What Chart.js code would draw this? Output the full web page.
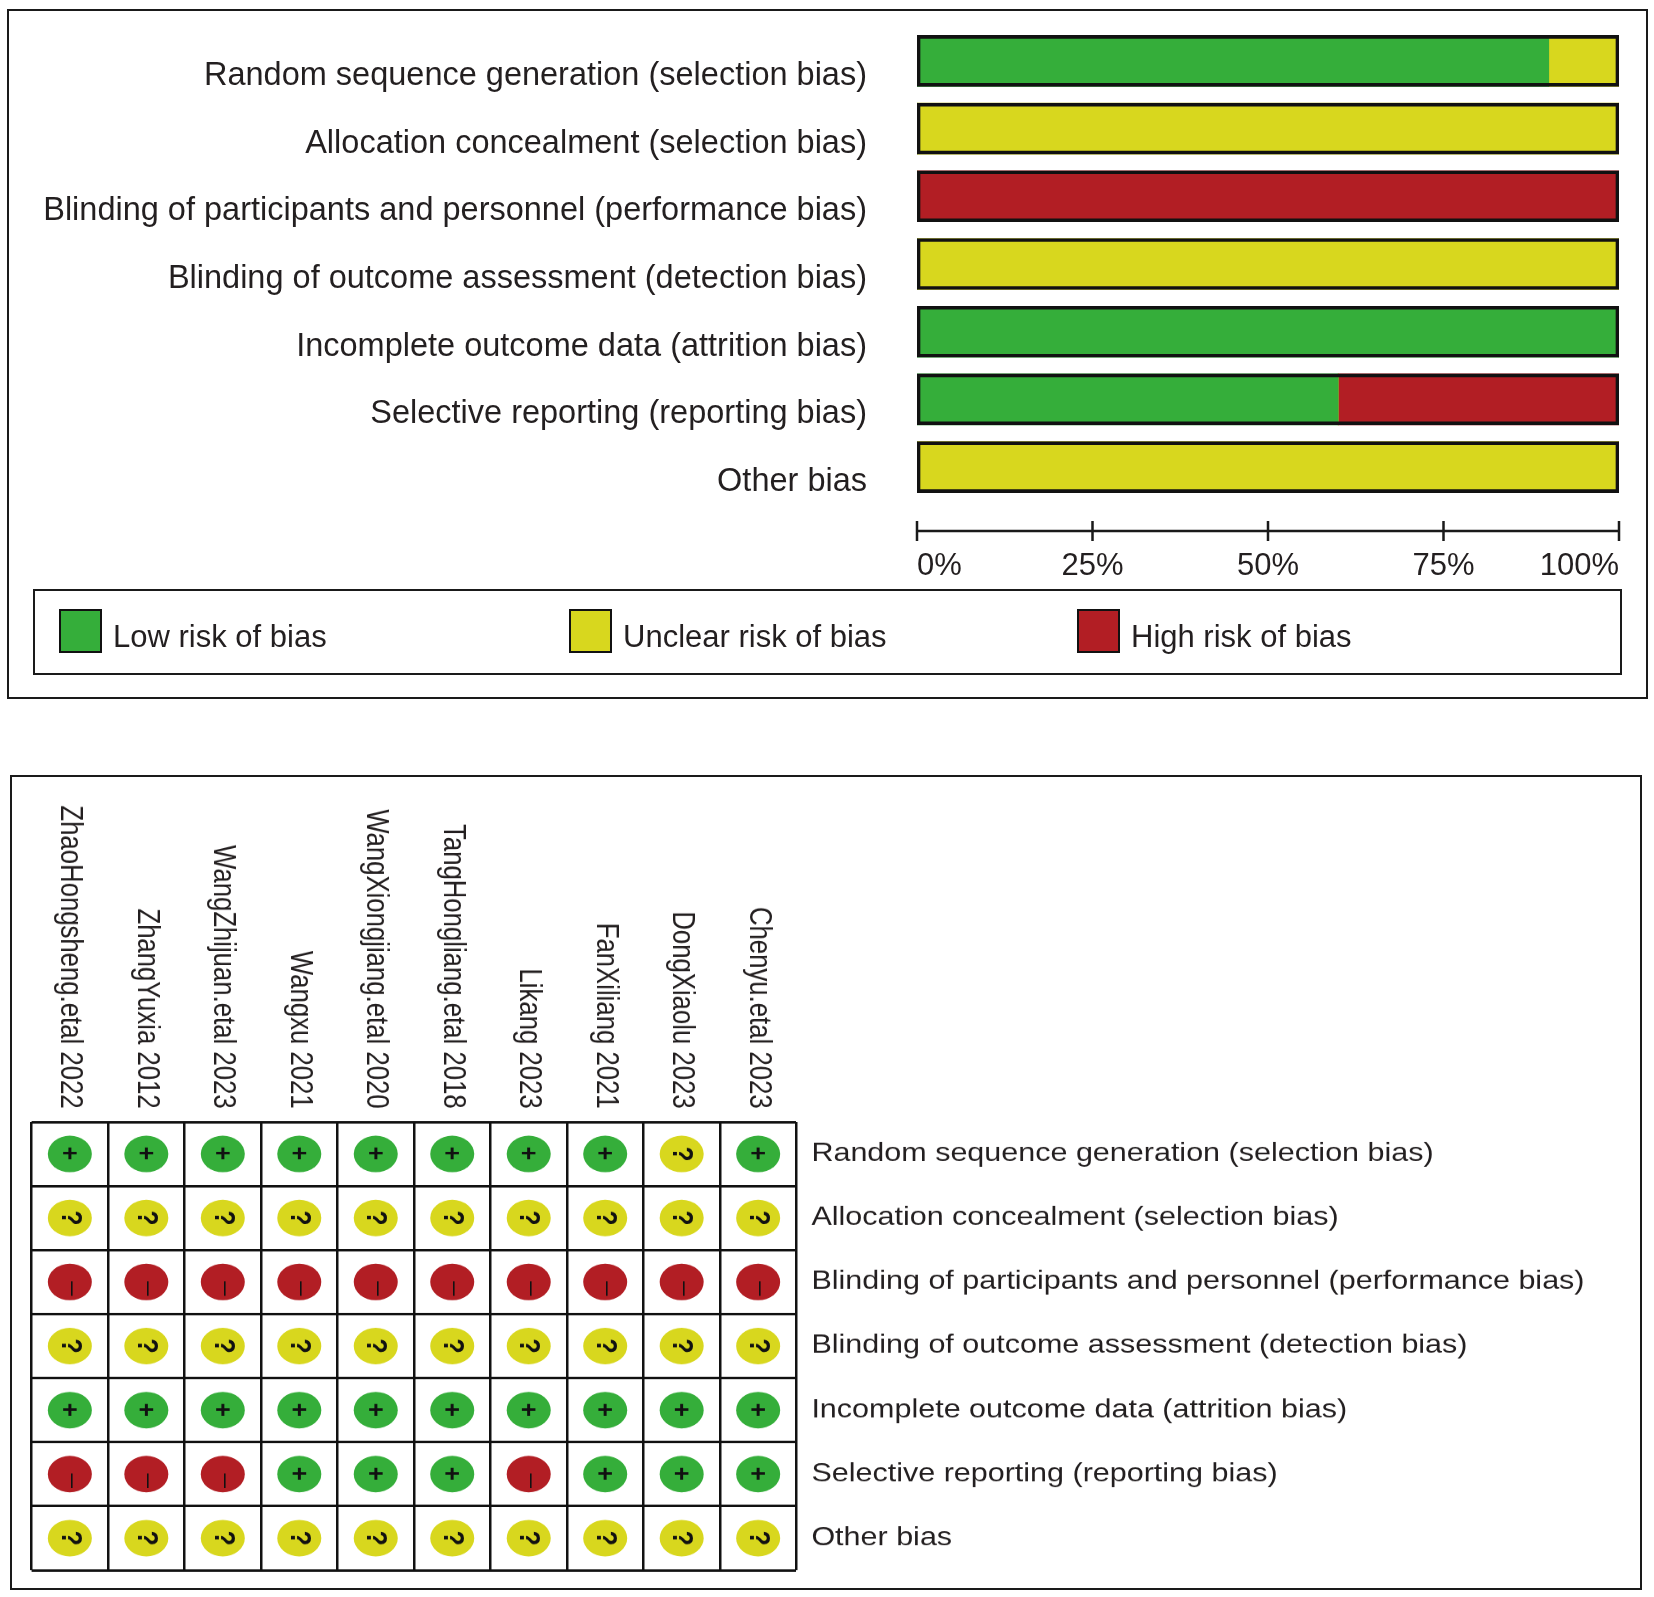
<!DOCTYPE html>
<html lang="en">
<head>
<meta charset="utf-8">
<title>Risk of bias graph and summary</title>
<script src="https://cdn.jsdelivr.net/npm/chart.js@4.4.1/dist/chart.umd.min.js"></script>
<style>
  html, body { margin: 0; padding: 0; background: #ffffff; }
  body {
    position: relative;
    width: 1654px;
    height: 1597px;
    overflow: hidden;
    font-family: 'Liberation Sans', Arial, sans-serif;
    color: #231f20;
  }
  .frame { position: absolute; box-sizing: border-box; border: 2.5px solid #1a1a1a; }
  #graphFrame { left: 7px; top: 9px; width: 1641px; height: 690px; }
  #summaryFrame { left: 10px; top: 775px; width: 1632px; height: 815px; }
  #graphCanvas { position: absolute; left: 0; top: 0; }
  /* the summary figure is vertically squashed in the original */
  #summaryCanvas { position: absolute; left: 0; top: 775px; transform: scaleY(0.83); transform-origin: 0 0; }
  #legend {
    position: absolute; left: 33px; top: 589px; width: 1589px; height: 86px;
    box-sizing: border-box; border: 2.5px solid #1a1a1a;
  }
  .legend-item { position: absolute; top: 18px; display: flex; align-items: center; font-size: 31px; }
  .legend-swatch { width: 43px; height: 44px; box-sizing: border-box; border: 2.5px solid #111; }
  .legend-text { margin-left: 11px; position: relative; top: 6px; }
</style>
</head>
<body>
<div class="frame" id="graphFrame"></div>
<div class="frame" id="summaryFrame"></div>
<canvas id="graphCanvas" width="1654" height="590"></canvas>
<div id="legend"></div>
<canvas id="summaryCanvas" width="1654" height="981"></canvas>
<script>
const domains = [
  'Random sequence generation (selection bias)',
  'Allocation concealment (selection bias)',
  'Blinding of participants and personnel (performance bias)',
  'Blinding of outcome assessment (detection bias)',
  'Incomplete outcome data (attrition bias)',
  'Selective reporting (reporting bias)',
  'Other bias'
];

const studies = [
  'ZhaoHongsheng.etal 2022',
  'ZhangYuxia 2012',
  'WangZhijuan.etal 2023',
  'Wangxu 2021',
  'WangXiongjiang.etal 2020',
  'TangHongliang.etal 2018',
  'Likang 2023',
  'FanXiliang 2021',
  'DongXiaolu 2023',
  'Chenyu.etal 2023'
];

// risk of bias graph (% of studies)
const lowPercent = [90, 0, 0, 0, 100, 60, 0];
const unclearPercent = [10, 100, 0, 100, 0, 0, 100];
const highPercent = [0, 0, 100, 0, 0, 40, 0];
const percentTicks = [0, 25, 50, 75, 100];

// risk of bias summary, one row per domain, one entry per study
const randomSequence = ['+', '+', '+', '+', '+', '+', '+', '+', '?', '+'];
const allocationConcealment = ['?', '?', '?', '?', '?', '?', '?', '?', '?', '?'];
const blindingParticipants = ['-', '-', '-', '-', '-', '-', '-', '-', '-', '-'];
const blindingOutcome = ['?', '?', '?', '?', '?', '?', '?', '?', '?', '?'];
const incompleteData = ['+', '+', '+', '+', '+', '+', '+', '+', '+', '+'];
const selectiveReporting = ['-', '-', '-', '+', '+', '+', '-', '+', '+', '+'];
const otherBias = ['?', '?', '?', '?', '?', '?', '?', '?', '?', '?'];

const riskLabels = ['Low risk of bias', 'Unclear risk of bias', 'High risk of bias'];
const riskSymbols = ['+', '?', '-'];
const riskColors = ['#35ae3a', '#d8d71e', '#b21e24'];

const judgements = [
  randomSequence,
  allocationConcealment,
  blindingParticipants,
  blindingOutcome,
  incompleteData,
  selectiveReporting,
  otherBias
];

const textColor = '#231f20';
const fontFamily = "'Liberation Sans', Arial, sans-serif";
Chart.defaults.font.family = fontFamily;
Chart.defaults.color = textColor;

// axis line with ticks crossing it, set a little below the bars
const axisLine = {
  id: 'axisLine',
  afterDraw(chart) {
    const scale = chart.scales.x;
    const y = chart.chartArea.bottom + 30;
    const ctx = chart.ctx;
    ctx.save();
    ctx.strokeStyle = '#1a1a1a';
    ctx.lineWidth = 2.5;
    ctx.beginPath();
    ctx.moveTo(scale.getPixelForValue(scale.min), y);
    ctx.lineTo(scale.getPixelForValue(scale.max), y);
    scale.ticks.forEach((tick) => {
      const x = scale.getPixelForValue(tick.value);
      ctx.moveTo(x, y - 10);
      ctx.lineTo(x, y + 10);
    });
    ctx.stroke();
    ctx.restore();
  }
};

const barBase = { stack: 'risk', barThickness: 51, borderWidth: 0 };

new Chart(document.getElementById('graphCanvas'), {
  type: 'bar',
  data: {
    labels: domains,
    datasets: [
      {
        label: 'outline',
        data: domains.map((_, i) => lowPercent[i] + unclearPercent[i] + highPercent[i]),
        stack: 'outline',
        grouped: false,
        order: -1,
        barThickness: 51,
        backgroundColor: 'rgba(0, 0, 0, 0)',
        borderColor: '#111111',
        borderWidth: 3,
        borderSkipped: false
      },
      { ...barBase, label: riskLabels[0], data: lowPercent, backgroundColor: riskColors[0] },
      { ...barBase, label: riskLabels[1], data: unclearPercent, backgroundColor: riskColors[1] },
      { ...barBase, label: riskLabels[2], data: highPercent, backgroundColor: riskColors[2] }
    ]
  },
  options: {
    indexAxis: 'y',
    responsive: false,
    animation: false,
    events: [],
    layout: { padding: { top: 27, right: 35, bottom: 0, left: 0 } },
    plugins: {
      legend: { display: false },
      tooltip: { enabled: false }
    },
    scales: {
      x: {
        stacked: true,
        min: 0,
        max: 100,
        afterFit(scale) {
          scale.height = 89;
        },
        afterBuildTicks(scale) {
          scale.ticks = percentTicks.map((value) => ({ value }));
        },
        // tick marks are hidden; their length only sets the label gap
        grid: { display: false, drawTicks: true, tickLength: 47 },
        border: { display: false },
        ticks: {
          align: 'inner',
          padding: 0,
          color: textColor,
          font: { size: 31 },
          callback(value) {
            return `${value}%`;
          }
        }
      },
      y: {
        afterFit(scale) {
          scale.width = 917;
        },
        grid: { display: false, drawTicks: true, tickLength: 50 },
        border: { display: false },
        ticks: {
          autoSkip: false,
          padding: 0,
          labelOffset: 15,
          color: textColor,
          font: { size: 32.5 }
        }
      }
    }
  },
  plugins: [axisLine]
});

// legend
const legend = document.getElementById('legend');
const legendLefts = [24, 534, 1042];
riskLabels.forEach((label, i) => {
  const item = document.createElement('div');
  item.className = 'legend-item';
  item.style.left = `${legendLefts[i]}px`;
  const swatch = document.createElement('div');
  swatch.className = 'legend-swatch';
  swatch.style.background = riskColors[i];
  const text = document.createElement('span');
  text.className = 'legend-text';
  text.textContent = label;
  item.appendChild(swatch);
  item.appendChild(text);
  legend.appendChild(item);
});

function drawSymbol(ctx, symbol, x, y) {
  ctx.save();
  ctx.translate(x, y);
  ctx.fillStyle = '#111111';
  ctx.textAlign = 'center';
  ctx.textBaseline = 'middle';
  if (symbol === '+') {
    ctx.font = `bold 27px ${fontFamily}`;
    ctx.fillText('+', 0, 1);
  } else if (symbol === '?') {
    // the original marks are turned a quarter clockwise
    ctx.rotate(Math.PI / 2);
    ctx.font = `bold 30px ${fontFamily}`;
    ctx.fillText('?', 0, 0);
  } else {
    ctx.translate(1.5, 8);
    ctx.rotate(Math.PI / 2);
    ctx.scale(1.8, 0.5);
    ctx.font = `40px ${fontFamily}`;
    ctx.fillText('-', 0, 0);
  }
  ctx.restore();
}

const riskSymbolsPlugin = {
  id: 'riskSymbols',
  afterDatasetsDraw(chart) {
    chart.data.datasets.forEach((dataset, i) => {
      chart.getDatasetMeta(i).data.forEach((point) => {
        drawSymbol(chart.ctx, dataset.symbol, point.x, point.y);
      });
    });
  }
};

// study names above the columns, read top to bottom
const studyLabels = {
  id: 'studyLabels',
  afterDraw(chart) {
    const scale = chart.scales.x;
    const ctx = chart.ctx;
    const y = chart.chartArea.top - 16;
    ctx.save();
    ctx.fillStyle = textColor;
    ctx.font = `31px ${fontFamily}`;
    ctx.textAlign = 'right';
    ctx.textBaseline = 'middle';
    scale.getLabels().forEach((label, i) => {
      ctx.save();
      ctx.translate(scale.getPixelForValue(i), y);
      ctx.rotate(Math.PI / 2);
      ctx.fillText(label, 0, 0);
      ctx.restore();
    });
    ctx.restore();
  }
};

function pointsFor(symbol) {
  const points = [];
  judgements.forEach((row, d) => {
    row.forEach((value, s) => {
      if (value === symbol) points.push({ x: studies[s], y: domains[d] });
    });
  });
  return points;
}

new Chart(document.getElementById('summaryCanvas'), {
  type: 'scatter',
  data: {
    datasets: riskLabels.map((label, i) => ({
      label,
      symbol: riskSymbols[i],
      data: pointsFor(riskSymbols[i]),
      backgroundColor: riskColors[i],
      borderWidth: 0,
      pointRadius: 22,
      pointHoverRadius: 22
    }))
  },
  options: {
    responsive: false,
    animation: false,
    events: [],
    layout: { padding: { top: 418, right: 0, bottom: 23, left: 31.6 } },
    plugins: {
      legend: { display: false },
      tooltip: { enabled: false }
    },
    scales: {
      x: {
        type: 'category',
        labels: studies,
        position: 'top',
        offset: true,
        afterFit(scale) {
          scale.height = 0;
        },
        grid: { offset: true, color: '#111111', lineWidth: 2.5, drawTicks: false },
        border: { display: false },
        ticks: { display: false, autoSkip: false }
      },
      y: {
        type: 'category',
        labels: domains,
        position: 'right',
        offset: true,
        afterFit(scale) {
          scale.width = 857.6;
        },
        grid: {
          offset: true,
          color: '#111111',
          lineWidth: 3,
          drawTicks: true,
          tickLength: 15,
          tickColor: 'rgba(0, 0, 0, 0)'
        },
        border: { display: false },
        ticks: {
          autoSkip: false,
          padding: 0,
          color: textColor,
          font: { size: 30.5 }
        }
      }
    }
  },
  plugins: [studyLabels, riskSymbolsPlugin]
});
</script>
</body>
</html>
